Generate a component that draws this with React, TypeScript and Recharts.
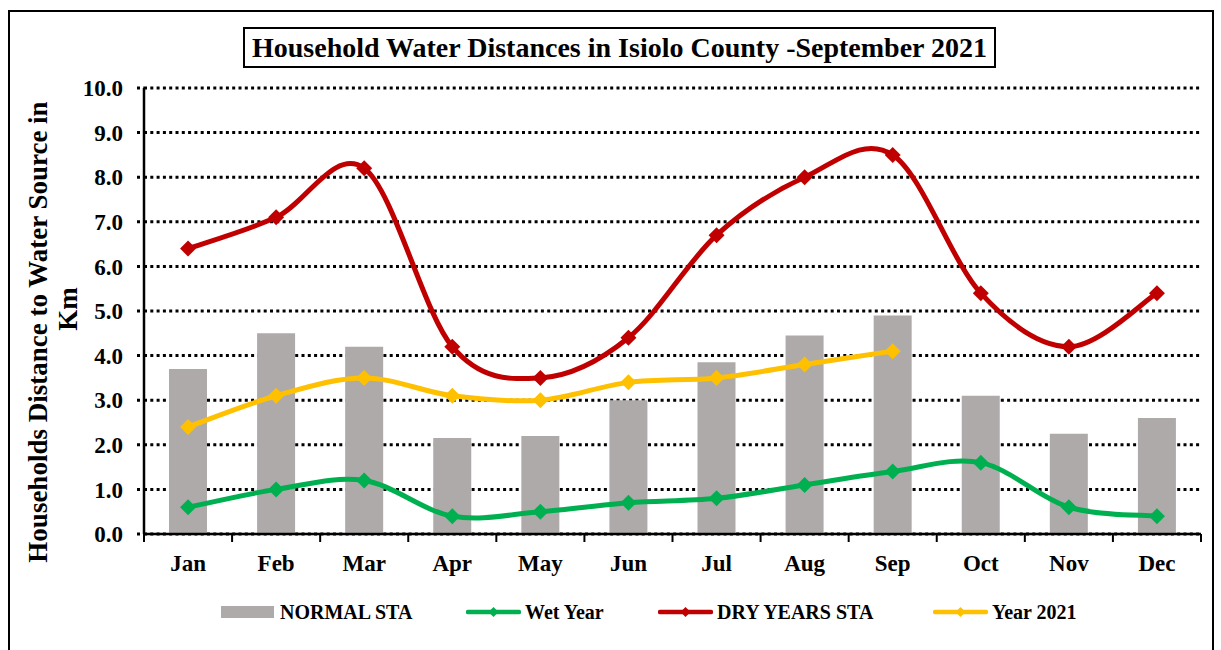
import React from "react";
import {
  Bar,
  CartesianGrid,
  ComposedChart,
  Line,
  XAxis,
  YAxis,
} from "recharts";

const MONTHS = ["Jan", "Feb", "Mar", "Apr", "May", "Jun", "Jul", "Aug", "Sep", "Oct", "Nov", "Dec"];
const NORMAL_STA = [3.7, 4.5, 4.2, 2.15, 2.2, 3.0, 3.85, 4.45, 4.9, 3.1, 2.25, 2.6];
const WET_YEAR = [0.6, 1.0, 1.2, 0.4, 0.5, 0.7, 0.8, 1.1, 1.4, 1.6, 0.6, 0.4];
const DRY_YEARS_STA = [6.4, 7.1, 8.2, 4.2, 3.5, 4.4, 6.7, 8.0, 8.5, 5.4, 4.2, 5.4];
const YEAR_2021 = [2.4, 3.1, 3.5, 3.1, 3.0, 3.4, 3.5, 3.8, 4.1, null, null, null];
const Y_TICKS = [0, 1, 2, 3, 4, 5, 6, 7, 8, 9, 10];

const FONT = '"Times New Roman", "Liberation Serif", serif';
const GREY = "#AEAAAA";
const GREEN = "#00B050";
const RED = "#C00000";
const GOLD = "#FFC000";

const data = MONTHS.map((m, i) => ({
  month: m,
  normal: NORMAL_STA[i],
  wet: WET_YEAR[i],
  dry: DRY_YEARS_STA[i],
  y2021: YEAR_2021[i],
}));

// excel style smoothed line (catmull-rom, bezier handles at 1/6)
class ExcelCurve {
  ctx: any;
  pts: number[][] = [];
  constructor(ctx: any) {
    this.ctx = ctx;
  }
  areaStart() {}
  areaEnd() {}
  lineStart() {
    this.pts = [];
  }
  point(x: number, y: number) {
    this.pts.push([+x, +y]);
  }
  lineEnd() {
    const p = this.pts;
    if (!p.length) return;
    this.ctx.moveTo(p[0][0], p[0][1]);
    for (let i = 0; i < p.length - 1; i++) {
      const a = p[i - 1] ?? p[i];
      const b = p[i];
      const c = p[i + 1];
      const d = p[i + 2] ?? p[i + 1];
      this.ctx.bezierCurveTo(
        b[0] + (c[0] - a[0]) / 6,
        b[1] + (c[1] - a[1]) / 6,
        c[0] - (d[0] - b[0]) / 6,
        c[1] - (d[1] - b[1]) / 6,
        c[0],
        c[1]
      );
    }
  }
}
const excelCurve = (ctx: any) => new ExcelCurve(ctx);

function Diamond({ cx, cy, fill, size = 8 }: any) {
  if (cx == null || cy == null) return null;
  const s = size;
  return (
    <polygon
      points={`${cx},${cy - s} ${cx + s},${cy} ${cx},${cy + s} ${cx - s},${cy}`}
      fill={fill}
    />
  );
}

const BAND = (1201 - 144) / 12;

function MonthTick({ x, y, payload, index }: any) {
  return (
    <g>
      {index === 0 && <line x1={x - BAND / 2} x2={x - BAND / 2} y1={y - 8} y2={y} stroke="#000" strokeWidth={2} />}
      <line x1={x + BAND / 2} x2={x + BAND / 2} y1={y - 8} y2={y} stroke="#000" strokeWidth={2} />
      <text x={x} y={y + 29} textAnchor="middle" fontFamily={FONT} fontWeight="bold" fontSize={23} fill="#000">
        {payload.value}
      </text>
    </g>
  );
}

function LegendItem({ label, color, bar, left }: any) {
  return (
    <div style={{ position: "absolute", left, top: 600, display: "flex", alignItems: "center", height: 24 }}>
      <svg width={55} height={24} style={{ display: "block" }}>
        {bar ? (
          <rect x={0} y={6} width={53} height={12} fill={GREY} />
        ) : (
          <>
            <line x1={2} x2={53} y1={12} y2={12} stroke={color} strokeWidth={4.5} strokeLinecap="round" />
            <Diamond cx={27.5} cy={12} fill={color} size={5} />
          </>
        )}
      </svg>
      <span style={{ fontFamily: FONT, fontWeight: "bold", fontSize: 20, marginLeft: 4, color: "#000", whiteSpace: "nowrap" }}>{label}</span>
    </div>
  );
}

export default function App() {
  return (
    <div
      style={{
        position: "absolute",
        left: 0,
        top: 0,
        width: 1221,
        height: 650,
        background: "#fff",
        overflow: "hidden",
      }}
    >
      <div
        style={{
          position: "absolute",
          left: 8,
          top: 10,
          width: 1206,
          height: 700,
          border: "2px solid #000",
          boxSizing: "border-box",
        }}
      />
      <div
        style={{
          position: "absolute",
          left: 243,
          top: 27,
          width: 753,
          height: 41,
          border: "2px solid #000",
          boxSizing: "border-box",
          display: "flex",
          alignItems: "center",
          justifyContent: "center",
          fontFamily: FONT,
          fontWeight: "bold",
          fontSize: 28,
          color: "#000",
          whiteSpace: "nowrap",
        }}
      >
        Household Water Distances in Isiolo County -September 2021
      </div>
      <svg width={120} height={650} style={{ position: "absolute", left: 0, top: 0 }}>
        <text
          transform="translate(47,332) rotate(-90)"
          textAnchor="middle"
          fontFamily={FONT}
          fontWeight="bold"
          fontSize={27}
          fill="#000"
        >
          Households Distance to Water Source in
        </text>
        <text
          transform="translate(77,309) rotate(-90)"
          textAnchor="middle"
          fontFamily={FONT}
          fontWeight="bold"
          fontSize={27}
          fill="#000"
        >
          Km
        </text>
      </svg>
      <div style={{ position: "absolute", left: 0, top: 0 }}>
        <ComposedChart
          width={1221}
          height={650}
          data={data}
          margin={{ top: 88, right: 20, bottom: 0, left: 84 }}
        >
          <CartesianGrid
            vertical={false}
            stroke="#000"
            strokeWidth={3}
            strokeDasharray="3 3.3"
          />
          <XAxis
            dataKey="month"
            axisLine={{ stroke: "#000", strokeWidth: 2.5 }}
            tickLine={false}
            tick={<MonthTick />}
            interval={0}
            height={116}
          />
          <YAxis
            domain={[0, 10]}
            ticks={Y_TICKS}
            interval={0}
            width={60}
            axisLine={{ stroke: "#000", strokeWidth: 2.5 }}
            tickLine={{ stroke: "#000", strokeWidth: 3, strokeDasharray: "3 3.3" }}
            tickSize={7}
            tickMargin={14}
            tickFormatter={(v) => Number(v).toFixed(1)}
            tick={{ fontFamily: FONT, fontWeight: "bold", fontSize: 23, fill: "#000" }}
          />
          <YAxis
            yAxisId="r"
            orientation="right"
            domain={[0, 10]}
            width={0}
            tick={false}
            tickLine={false}
            axisLine={{ stroke: "#000", strokeWidth: 2 }}
          />
          <Bar dataKey="normal" fill={GREY} barSize={38} isAnimationActive={false} />
          <Line
            dataKey="wet"
            type={excelCurve as any}
            stroke={GREEN}
            strokeWidth={5}
            dot={<Diamond fill={GREEN} />}
            activeDot={false}
            isAnimationActive={false}
          />
          <Line
            dataKey="dry"
            type={excelCurve as any}
            stroke={RED}
            strokeWidth={5}
            dot={<Diamond fill={RED} />}
            activeDot={false}
            isAnimationActive={false}
          />
          <Line
            dataKey="y2021"
            type={excelCurve as any}
            stroke={GOLD}
            strokeWidth={5}
            dot={<Diamond fill={GOLD} />}
            activeDot={false}
            isAnimationActive={false}
          />
        </ComposedChart>
      </div>
      <LegendItem label="NORMAL STA" bar left={221} />
      <LegendItem label="Wet Year" color={GREEN} left={466} />
      <LegendItem label="DRY YEARS STA" color={RED} left={658} />
      <LegendItem label="Year 2021" color={GOLD} left={933} />
    </div>
  );
}
